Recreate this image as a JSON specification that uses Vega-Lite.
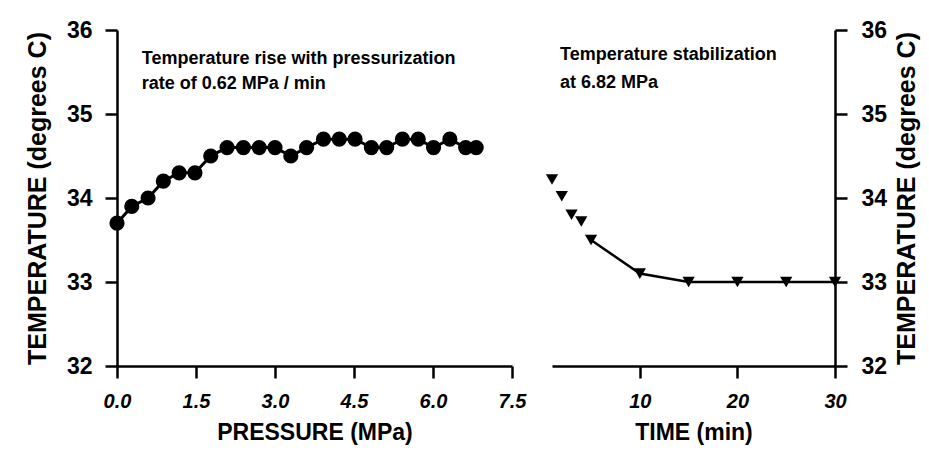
{
  "$schema": "https://vega.github.io/schema/vega-lite/v6.json",
  "padding": {"left": 25, "top": 19, "right": 5, "bottom": 5},
  "background": "white",
  "spacing": 40,
  "bounds": "flush",
  "datasets": {
    "pressure": [
      {"p": 0.0, "temp": 33.7},
      {"p": 0.28, "temp": 33.9},
      {"p": 0.59, "temp": 34.0},
      {"p": 0.88, "temp": 34.2},
      {"p": 1.18, "temp": 34.3},
      {"p": 1.48, "temp": 34.3},
      {"p": 1.78, "temp": 34.5},
      {"p": 2.09, "temp": 34.6},
      {"p": 2.40, "temp": 34.6},
      {"p": 2.70, "temp": 34.6},
      {"p": 3.00, "temp": 34.6},
      {"p": 3.30, "temp": 34.5},
      {"p": 3.60, "temp": 34.6},
      {"p": 3.92, "temp": 34.7},
      {"p": 4.22, "temp": 34.7},
      {"p": 4.52, "temp": 34.7},
      {"p": 4.83, "temp": 34.6},
      {"p": 5.12, "temp": 34.6},
      {"p": 5.42, "temp": 34.7},
      {"p": 5.72, "temp": 34.7},
      {"p": 6.01, "temp": 34.6},
      {"p": 6.32, "temp": 34.7},
      {"p": 6.62, "temp": 34.6},
      {"p": 6.82, "temp": 34.6}
    ],
    "time": [
      {"time": 1, "temp": 34.22},
      {"time": 2, "temp": 34.02},
      {"time": 3, "temp": 33.8},
      {"time": 4, "temp": 33.72},
      {"time": 5, "temp": 33.5},
      {"time": 10, "temp": 33.1},
      {"time": 15, "temp": 33.0},
      {"time": 20, "temp": 33.0},
      {"time": 25, "temp": 33.0},
      {"time": 30, "temp": 33.0}
    ],
    "noteLeft": [
      {"p": 0.47, "temp": 35.66, "label": "Temperature rise with pressurization"},
      {"p": 0.47, "temp": 35.36, "label": "rate of 0.62 MPa / min"}
    ],
    "noteRight": [
      {"time": 1.82, "temp": 35.7, "label": "Temperature stabilization"},
      {"time": 1.82, "temp": 35.37, "label": "at 6.82  MPa"}
    ]
  },
  "hconcat": [
    {
      "width": 395,
      "height": 336,
      "layer": [
        {
          "data": {"name": "pressure"},
          "mark": {"type": "line", "color": "black", "strokeWidth": 3},
          "encoding": {
            "x": {"field": "p", "type": "quantitative"},
            "y": {"field": "temp", "type": "quantitative"}
          }
        },
        {
          "data": {"name": "pressure"},
          "mark": {"type": "point", "shape": "circle", "filled": true, "color": "black", "opacity": 1, "size": 230},
          "encoding": {
            "x": {"field": "p", "type": "quantitative"},
            "y": {"field": "temp", "type": "quantitative"}
          }
        },
        {
          "data": {"name": "noteLeft"},
          "mark": {"type": "text", "align": "left", "baseline": "middle", "fontSize": 18, "fontWeight": "bold", "color": "black", "font": "Liberation Sans"},
          "encoding": {
            "x": {"field": "p", "type": "quantitative"},
            "y": {"field": "temp", "type": "quantitative"},
            "text": {"field": "label"}
          }
        }
      ],
      "encoding": {
        "x": {
          "field": "p", "type": "quantitative",
          "scale": {"domain": [0, 7.5], "nice": false, "zero": false},
          "axis": {
            "title": "PRESSURE (MPa)",
            "values": [0, 1.5, 3, 4.5, 6, 7.5],
            "format": ".1f",
            "labelFontStyle": "italic",
            "labelFontSize": 20,
            "labelPadding": 13,
            "titleFontSize": 23,
            "titlePadding": 10
          }
        },
        "y": {
          "field": "temp", "type": "quantitative",
          "scale": {"domain": [32, 36], "nice": false, "zero": false},
          "axis": {
            "title": "TEMPERATURE (degrees C)",
            "values": [32, 33, 34, 35, 36],
            "labelFontSize": 23,
            "labelPadding": 13,
            "titleFontSize": 25,
            "titlePadding": 16
          }
        }
      }
    },
    {
      "width": 283,
      "height": 336,
      "layer": [
        {
          "data": {"name": "time"},
          "transform": [{"filter": "datum.time >= 5"}],
          "mark": {"type": "line", "color": "black", "strokeWidth": 2.5},
          "encoding": {
            "x": {"field": "time", "type": "quantitative"},
            "y": {"field": "temp", "type": "quantitative"}
          }
        },
        {
          "data": {"name": "time"},
          "mark": {"type": "point", "shape": "triangle-down", "filled": true, "color": "black", "opacity": 1, "size": 150},
          "encoding": {
            "x": {"field": "time", "type": "quantitative"},
            "y": {"field": "temp", "type": "quantitative"}
          }
        },
        {
          "data": {"name": "noteRight"},
          "mark": {"type": "text", "align": "left", "baseline": "middle", "fontSize": 18, "fontWeight": "bold", "color": "black", "font": "Liberation Sans"},
          "encoding": {
            "x": {"field": "time", "type": "quantitative"},
            "y": {"field": "temp", "type": "quantitative"},
            "text": {"field": "label"}
          }
        }
      ],
      "encoding": {
        "x": {
          "field": "time", "type": "quantitative",
          "scale": {"domain": [1, 30], "nice": false, "zero": false},
          "axis": {
            "title": "TIME (min)",
            "values": [10, 20, 30],
            "format": "d",
            "labelFontStyle": "italic",
            "labelFontSize": 20,
            "labelPadding": 13,
            "titleFontSize": 23,
            "titlePadding": 10
          }
        },
        "y": {
          "field": "temp", "type": "quantitative",
          "scale": {"domain": [32, 36], "nice": false, "zero": false},
          "axis": {
            "orient": "right",
            "title": "TEMPERATURE (degrees C)",
            "values": [32, 33, 34, 35, 36],
            "labelFontSize": 23,
            "labelPadding": 14,
            "titleFontSize": 25,
            "titlePadding": 8,
            "titleAngle": 270,
            "titleBaseline": "top"
          }
        }
      }
    }
  ],
  "config": {
    "font": "Liberation Sans",
    "view": {"stroke": null},
    "axis": {
      "grid": false,
      "domainColor": "black",
      "domainWidth": 2.5,
      "tickColor": "black",
      "tickWidth": 2.5,
      "tickSize": 12,
      "labelColor": "black",
      "labelFontWeight": "bold",
      "titleColor": "black",
      "titleFontWeight": "bold",
      "labelFlush": false,
      "labelOverlap": false
    }
  }
}
